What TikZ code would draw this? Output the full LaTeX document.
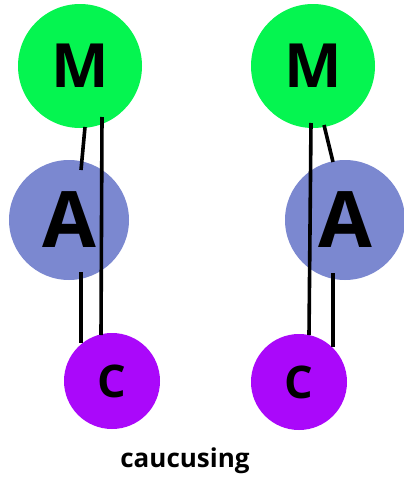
\documentclass[tikz,border=0pt]{standalone}
\usepackage{fontspec}
\setmainfont{Open Sans}
\definecolor{mgreen}{RGB}{5,245,80}
\definecolor{ablue}{RGB}{123,136,208}
\definecolor{cpurple}{RGB}{170,8,250}
\begin{document}
\begin{tikzpicture}[x=1pt,y=-1pt,
  circ/.style={circle,inner sep=0pt,text=black,font=\bfseries},
  mnode/.style={circ,fill=mgreen,minimum size=124pt,font=\bfseries\fontsize{61}{61}\selectfont},
  anode/.style={circ,fill=ablue,minimum size=120pt,font=\bfseries\fontsize{78}{78}\selectfont},
  cnode/.style={circ,fill=cpurple,minimum size=96pt,font=\bfseries\fontsize{45}{45}\selectfont},
  link/.style={draw=black,line width=3.6pt}]
\useasboundingbox (0,0) rectangle (404,479);
\fill[white] (0,0) rectangle (404,479);
% left
\node[mnode] (lM) at (80,66) {M};
\node[anode] (lA) at (69,220) {A};
\node[cnode] (lC) at (112,381) {C};
% right
\node[mnode] (rM) at (313,66) {M};
\node[anode] (rA) at (345,220) {A};
\node[cnode] (rC) at (299,382) {C};
% left line ends
\coordinate (l1a) at (85,127); \coordinate (l1b) at (81,170);
\coordinate (l2a) at (81,272); \coordinate (l2b) at (81,343);
\coordinate (l3a) at (102,117); \coordinate (l3b) at (101,335);
\draw[link] (l1a) -- (l1b);
\draw[link] (l2a) -- (l2b);
\draw[link] (l3a) -- (l3b);
% right line ends
\coordinate (r1a) at (324,125); \coordinate (r1b) at (333,162);
\coordinate (r2a) at (333,273); \coordinate (r2b) at (333,347);
\coordinate (r3a) at (311,123); \coordinate (r3b) at (309,335);
\draw[link] (r1a) -- (r1b);
\draw[link] (r2a) -- (r2b);
\draw[link] (r3a) -- (r3b);
\node[font=\bfseries\fontsize{26}{26}\selectfont,anchor=base] (cap) at (185,467) {caucusing};
\end{tikzpicture}
\end{document}
